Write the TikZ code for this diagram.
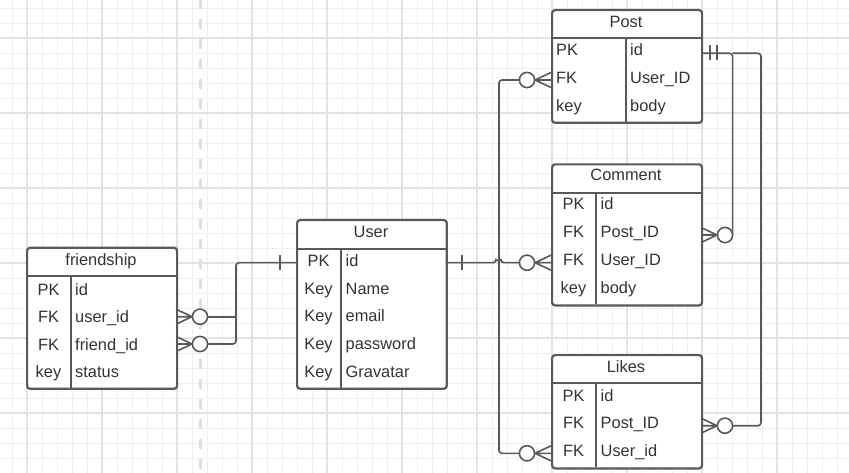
\documentclass[tikz,border=0pt]{standalone}
\usepackage{fontspec}
\setmainfont{Liberation Sans}
\definecolor{ln}{HTML}{595959}
\definecolor{tx}{HTML}{333333}
\definecolor{gmin}{HTML}{EFEFEF}
\definecolor{gmaj}{HTML}{E2E2E2}
\definecolor{dsh}{HTML}{DDDDDD}
\begin{document}
\begin{tikzpicture}[x=1pt,y=-1pt,
  tbl/.style={draw=ln, line width=2.2pt, rounded corners=3pt, fill=white, inner sep=0pt, anchor=north west},
  sepline/.style={draw=ln, line width=2.2pt},
  conn/.style={draw=ln, line width=1.6pt, rounded corners=3pt},
  lbl/.style={text=tx, font=\fontsize{16.4}{19}\selectfont, inner sep=0pt},
  kc/.style={lbl, anchor=base},
  vl/.style={lbl, anchor=base west},
  crowL/.pic={\draw[ln, line width=1.6pt] (0,-7.5) -- (-16,0) -- (0,7.5) (0,0) -- (-16,0);
              \draw[ln, line width=1.6pt, fill=white] (-24,0) circle[radius=7.6];},
  crowR/.pic={\draw[ln, line width=1.6pt] (0,-7.5) -- (16,0) -- (0,7.5) (0,0) -- (16,0);
              \draw[ln, line width=1.6pt, fill=white] (24,0) circle[radius=7.6];}
]
\useasboundingbox (0,0) rectangle (849,473);
\fill[white] (0,0) rectangle (849,473);
% grid
\foreach \x in {12,27,...,849} \draw[gmin, line width=0.9pt] (\x,0) -- (\x,473);
\foreach \y in {8,23,...,473} \draw[gmin, line width=0.9pt] (0,\y) -- (849,\y);
\foreach \x in {27,102,...,849} \draw[gmaj, line width=1.1pt] (\x,0) -- (\x,473);
\foreach \y in {38,113,...,473} \draw[gmaj, line width=1.1pt] (0,\y) -- (849,\y);
% dashed divider
\draw[dsh, line width=3pt, dash pattern=on 10pt off 10pt] (200,-1) -- (200,473);

% ---------- tables ----------
% friendship
\node[tbl, minimum width=150pt, minimum height=141pt] (fr) at (26,246.7) {};
\draw[sepline] (26,276) -- (176,276) (71,276) -- (71,387.7);
\node[kc] (fr-h) at (101,265.5) {friendship};
\node[kc] (fr-k1) at (48.5,295) {PK};   \node[vl] (fr-v1) at (75,295) {id};
\node[kc] (fr-k2) at (48.5,322.5) {FK}; \node[vl] (fr-v2) at (75,322.5) {user\_id};
\node[kc] (fr-k3) at (48.5,350) {FK};   \node[vl] (fr-v3) at (75,350) {friend\_id};
\node[kc] (fr-k4) at (48.5,377.7) {key}; \node[vl] (fr-v4) at (75,377.7) {status};

% User
\node[tbl, minimum width=149.7pt, minimum height=168.7pt] (us) at (296,219) {};
\draw[sepline] (296,248.7) -- (445.7,248.7) (341,248.7) -- (341,387.7);
\node[kc] (us-h) at (371,237.3) {User};
\node[kc] (us-k1) at (318.5,266.7) {PK};  \node[vl] (us-v1) at (345.5,266.7) {id};
\node[kc] (us-k2) at (318.5,294.3) {Key}; \node[vl] (us-v2) at (345.5,294.3) {Name};
\node[kc] (us-k3) at (318.5,321.9) {Key}; \node[vl] (us-v3) at (345.5,321.9) {email};
\node[kc] (us-k4) at (318.5,349.5) {Key}; \node[vl] (us-v4) at (345.5,349.5) {password};
\node[kc] (us-k5) at (318.5,377.1) {Key}; \node[vl] (us-v5) at (345.5,377.1) {Gravatar};

% Post
\node[tbl, minimum width=150pt, minimum height=112.7pt] (po) at (551,9) {};
\draw[sepline] (551,38.3) -- (701,38.3) (626,38.3) -- (626,121.7);
\node[kc] (po-h) at (626,27.3) {Post};
\node[vl] (po-k1) at (556,56) {PK};    \node[vl] (po-v1) at (630,56) {id};
\node[vl] (po-k2) at (556,83.6) {FK};  \node[vl] (po-v2) at (630,83.6) {User\_ID};
\node[vl] (po-k3) at (556,111.2) {key}; \node[vl] (po-v3) at (630,111.2) {body};

% Comment
\node[tbl, minimum width=150pt, minimum height=141pt] (cm) at (551,163.3) {};
\draw[sepline] (551,193.3) -- (701,193.3) (596,193.3) -- (596,304.3);
\node[kc] (cm-h) at (626,181) {Comment};
\node[kc] (cm-k1) at (573.5,210) {PK};    \node[vl] (cm-v1) at (600.5,210) {id};
\node[kc] (cm-k2) at (573.5,237.8) {FK};  \node[vl] (cm-v2) at (600.5,237.8) {Post\_ID};
\node[kc] (cm-k3) at (573.5,265.6) {FK};  \node[vl] (cm-v3) at (600.5,265.6) {User\_ID};
\node[kc] (cm-k4) at (573.5,293.4) {key}; \node[vl] (cm-v4) at (600.5,293.4) {body};

% Likes
\node[tbl, minimum width=150pt, minimum height=113.3pt] (lk) at (551,354) {};
\draw[sepline] (551,383.3) -- (701,383.3) (596,383.3) -- (596,467.3);
\node[kc] (lk-h) at (626,372.3) {Likes};
\node[kc] (lk-k1) at (573.5,401) {PK};   \node[vl] (lk-v1) at (600.5,401) {id};
\node[kc] (lk-k2) at (573.5,428.8) {FK}; \node[vl] (lk-v2) at (600.5,428.8) {Post\_ID};
\node[kc] (lk-k3) at (573.5,456.5) {FK}; \node[vl] (lk-v3) at (600.5,456.5) {User\_id};

% ---------- connector end points ----------
\coordinate (fr-uid) at (208,316.7);
\coordinate (fr-fid) at (208,344);
\coordinate (fr-join) at (236,316.7);
\coordinate (us-id-w) at (296,262.7);
\coordinate (us-id-e) at (445.7,262.7);
\coordinate (cm-uid) at (519,262.7);
\coordinate (po-fk) at (519,80);
\coordinate (lk-uid) at (519,453.3);
\coordinate (po-id) at (701,53.3);
\coordinate (cm-pid) at (732.6,235);
\coordinate (lk-pid) at (732.6,425.7);

% crow's feet
\pic at (176,316.7) {crowR};
\pic at (176,344) {crowR};
\pic at (551,262.7) {crowL};
\pic at (551,80) {crowL};
\pic at (551,453.3) {crowL};
\pic at (701,235) {crowR};
\pic at (701,425.7) {crowR};

% connectors
\draw[conn] (fr-uid) -- (fr-join);
\draw[conn] (fr-fid) -- (236,344) -- (236,262.7) -- (us-id-w);
\draw[conn] (280,255) -- (280,270);
\draw[conn] (us-id-e) -- (496,262.7) arc[start angle=180, end angle=360, radius=2.5] -- (cm-uid);
\draw[conn] (462,255) -- (462,270);
\draw[conn] (po-fk) -- (499,80) -- (499,453.3) -- (lk-uid);
\draw[conn] (po-id) -- (732.6,53.3) -- (cm-pid);
\draw[conn] (732.6,53.3) -- (761,53.3) -- (761,425.7) -- (lk-pid);
\draw[conn] (710,45) -- (710,60) (717,45) -- (717,60);
\end{tikzpicture}
\end{document}
